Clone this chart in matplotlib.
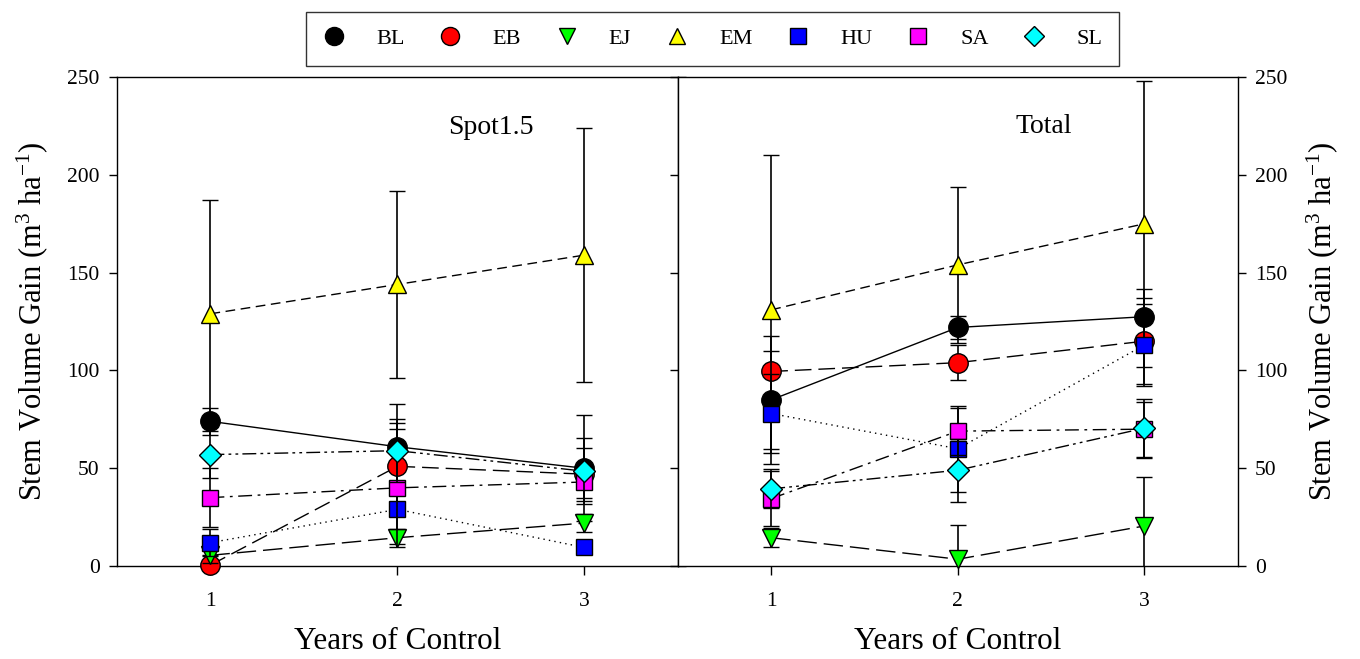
import numpy as np
import matplotlib.pyplot as plt
from matplotlib.lines import Line2D

plt.rcParams['font.family'] = ['Liberation Serif', 'DejaVu Serif']
plt.rcParams['mathtext.fontset'] = 'custom'
plt.rcParams['mathtext.rm'] = 'Liberation Serif'
plt.rcParams['mathtext.it'] = 'Liberation Serif:italic'

years = [1, 2, 3]
species = ['BL', 'EB', 'EJ', 'EM', 'HU', 'SA', 'SL']

# Mean stem volume gain and error (rows follow species order)
spot_means = [[74, 61, 50],
              [0.5, 51, 47],
              [5.5, 14.5, 22],
              [129, 144, 159],
              [12, 29, 9.5],
              [35, 40, 43],
              [57, 59, 48.5]]
spot_errs = [[7, 22, 27],
             [5, 22, 13.5],
             [4, 3, 4.5],
             [58, 48, 65],
             [7, 10, 3],
             [15, 30, 8],
             [12, 16, 17]]

total_means = [[85, 122, 127.5],
               [99.5, 104, 115],
               [14.5, 3.5, 20.5],
               [131, 154, 175],
               [78, 60, 113],
               [34.5, 69, 70],
               [39.5, 49, 70.5]]
total_errs = [[25, 6, 14],
              [18, 9, 22],
              [5, 17.5, 25],
              [79, 40, 73],
              [20, 22, 21],
              [14, 12, 14],
              [10, 16, 15]]

# Marker / colour / line style for each species
markers = ['o', 'o', 'v', '^', 's', 's', 'D']
colors = ['black', 'red', '#00ff00', 'yellow', 'blue', 'magenta', 'cyan']
sizes = [14, 14, 13, 13, 12, 12, 11]
styles = ['-', (0, (12, 5)), (0, (14, 5)), (0, (7, 4)), (0, (1, 3)),
          (0, (10, 4, 2, 4)), (0, (10, 3, 2, 3, 2, 3))]

fig = plt.figure(figsize=(13.6, 6.59), dpi=100)
ax1 = fig.add_axes([0.086, 0.141, 0.4125, 0.742])
ax2 = fig.add_axes([0.4985, 0.141, 0.4115, 0.742])


def draw_panel(ax, means, errs, label, lx, ly):
    for i in range(len(species)):
        cont = ax.errorbar(years, means[i], yerr=errs[i], color='black', lw=1,
                           ls=styles[i], marker=markers[i], ms=sizes[i],
                           mfc=colors[i], mec='black', mew=1,
                           ecolor='black', elinewidth=1.2, capsize=5.5,
                           capthick=1.2, zorder=3 + i)
        # markers sitting on the zero line stay whole, bars are clipped
        cont.lines[0].set_clip_on(False)
    ax.set_xlim(0.5, 3.5)
    ax.set_ylim(0, 250)
    ax.set_xticks(years)
    ax.set_yticks(np.arange(0, 251, 50))
    ax.tick_params(axis='x', direction='out', length=6.5, width=1,
                   labelsize=15.5, pad=12, top=False)
    ax.tick_params(axis='y', direction='out', length=5.5, width=1,
                   labelsize=15.5, left=True, right=True, pad=7)
    ax.set_xlabel('Years of Control', fontsize=22.5, labelpad=12)
    ax.text(lx, ly, label, fontsize=20, ha='center', va='center')
    for s in ax.spines.values():
        s.set_linewidth(1)


draw_panel(ax1, spot_means, spot_errs, 'Spot1.5', 2.5, 224)
draw_panel(ax2, total_means, total_errs, 'Total', 2.46, 225)

ylab = 'Stem Volume Gain (m$^{3}$ ha$^{-1}$)'
ax1.set_ylabel(ylab, fontsize=22, labelpad=12)
ax1.tick_params(axis='y', labelleft=True, labelright=False)

ax2.tick_params(axis='y', labelleft=False, labelright=True)
ax2.yaxis.set_label_position('right')
ax2.set_ylabel(ylab, fontsize=22, labelpad=12)

handles = [Line2D([], [], ls='none', marker=markers[i], ms=sizes[i] - 1,
                  mfc=colors[i], mec='black', mew=1) for i in range(len(species))]
leg = fig.legend(handles, species, loc='upper center', ncol=7,
                 bbox_to_anchor=(0.524, 0.982), borderaxespad=0,
                 fontsize=16, frameon=True,
                 fancybox=False, edgecolor='black', handlelength=1.0,
                 handletextpad=1.4, columnspacing=1.55, borderpad=0.75)
leg.get_frame().set_linewidth(1)

fig.savefig('out.png', dpi=100)
